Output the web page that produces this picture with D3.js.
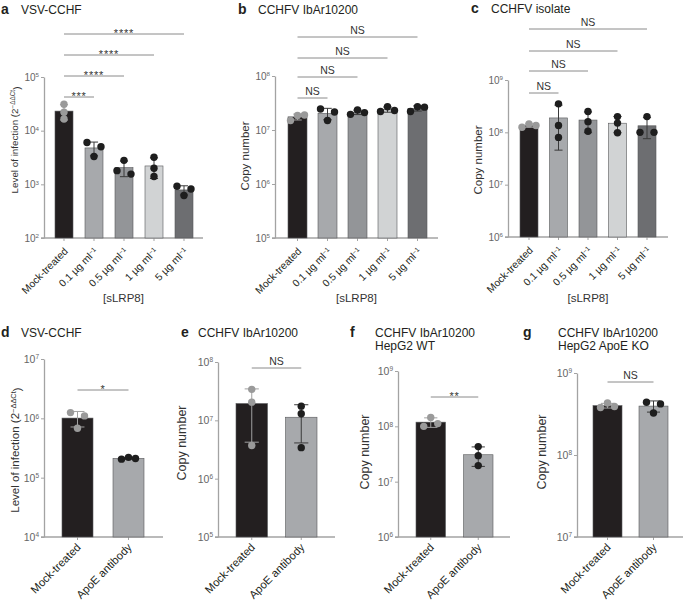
<!DOCTYPE html>
<html>
<head>
<meta charset="utf-8">
<script src="https://cdn.jsdelivr.net/npm/d3@7"></script>
<style>
  body { margin: 0; background: #fff; }
  svg { display: block; font-family: "Liberation Sans", Arial, sans-serif; }
</style>
</head>
<body>
<svg id="chart" width="686" height="604"></svg>
<script>
// groups and colours
const doseGroups = ["Mock-treated", "0.1 µg ml-1", "0.5 µg ml-1", "1 µg ml-1", "5 µg ml-1"];
const apoeGroups = ["Mock-treated", "ApoE antibody"];
const doseColors = ["#231f20", "#a7a9ac", "#939598", "#d1d3d4", "#6d6e71"];
const apoeColors = ["#231f20", "#a7a9ac"];

// replicate values
const vsvDoseValues = [[31000, 22000, 16500], [6000, 5000, 3300], [2800, 1800, 1550], [3200, 2000, 1400], [920, 820, 620]];
const ibarDoseValues = [[1.5e7, 1.85e7, 1.9e7], [2.45e7, 2.15e7, 1.5e7], [1.95e7, 2.35e7, 2.1e7], [2.2e7, 2.7e7, 2.3e7], [2.2e7, 2.7e7, 2.65e7]];
const isolateDoseValues = [[1.25e8, 1.45e8, 1.35e8], [3.5e8, 1.35e8, 0.8e8], [2.5e8, 1.6e8, 1.05e8], [2e8, 1.5e8, 0.98e8], [2e8, 1e8, 1e8]];
const vsvApoeValues = [[1.25e6, 1.1e6, 6.8e5], [2.05e5, 2.2e5, 2.1e5]];
const ibarApoeValues = [[3.4e7, 2.05e7, 3.7e6], [1.75e7, 1.3e7, 3.4e6]];
const hepWtValues = [[1.0e8, 1.45e8, 1.12e8], [4.3e7, 2.95e7, 1.95e7]];
const hepKoValues = [[3.8e8, 4.3e8, 3.9e8], [4.4e8, 4.2e8, 3.25e8]];

// significance labels (each vs mock-treated)
const vsvDoseSig = ["***", "****", "****", "****"];
const ibarDoseSig = ["NS", "NS", "NS", "NS"];
const isolateDoseSig = ["NS", "NS", "NS", "NS"];
const vsvApoeSig = ["*"];
const ibarApoeSig = ["NS"];
const hepWtSig = ["**"];
const hepKoSig = ["NS"];

const svg = d3.select("#chart");
const axisColor = "#a3a3a3";
const textColor = "#231f20";

function addLabel(sel, label) {
  // "ml-1" gets a superscript -1
  if (label.endsWith("-1")) {
    sel.text(label.slice(0, -2));
    sel.append("tspan").attr("dy", "-0.45em").attr("font-size", "0.65em").text("\u22121");
  } else {
    sel.text(label);
  }
}

function swarmOffsets(ys, step) {
  const idx = ys.map((v, i) => i).sort((a, b) => ys[a] - ys[b]);
  const out = new Array(ys.length).fill(0);
  let cluster = [idx[0]];
  const flush = () => {
    const sorted = cluster.slice().sort((a, b) => a - b);
    const n = sorted.length;
    sorted.forEach((k, j) => { out[k] = n === 1 ? 0 : (j - (n - 1) / 2) * (2 * step / (n - 1)); });
  };
  for (let i = 1; i < idx.length; i++) {
    if (ys[idx[i]] - ys[idx[i - 1]] < 6.5) cluster.push(idx[i]);
    else { flush(); cluster = [idx[i]]; }
  }
  flush();
  return out;
}

function drawPanel(p) {
  const g = svg.append("g");
  const n = p.groups.length;
  const y = d3.scaleLog().domain(p.domain).range([p.yBottom, p.yTop]);
  const gap = p.step - p.barW;
  const x = d3.scaleBand()
    .domain(d3.range(n))
    .range([p.barStart - gap / 2, p.barStart - gap / 2 + p.step * n])
    .paddingInner(gap / p.step)
    .paddingOuter(gap / p.step / 2);
  const cx = i => x(i) + x.bandwidth() / 2;

  // y axis
  const e0 = Math.round(Math.log10(p.domain[0])), e1 = Math.round(Math.log10(p.domain[1]));
  const yAxis = g.append("g")
    .attr("transform", `translate(${p.axisX},0)`)
    .call(d3.axisLeft(y).tickValues(d3.range(e0, e1 + 1).map(e => Math.pow(10, e)))
      .tickSize(3).tickSizeOuter(0).tickPadding(2).tickFormat(() => "10"));
  yAxis.select(".domain").attr("stroke", axisColor).attr("stroke-width", 1.3);
  yAxis.selectAll(".tick line").attr("stroke", axisColor);
  yAxis.selectAll(".tick text")
    .attr("fill", "#666").attr("font-size", p.tickFont).attr("font-family", "Liberation Sans, Arial, sans-serif")
    .each(function (d) {
      d3.select(this).append("tspan").attr("dy", "-0.55em").attr("font-size", "0.62em")
        .text(Math.round(Math.log10(d)));
    });

  // x axis
  g.append("line")
    .attr("x1", p.axisX - 3).attr("x2", p.axisEnd)
    .attr("y1", p.yBottom).attr("y2", p.yBottom)
    .attr("stroke", axisColor).attr("stroke-width", 1.3);
  const xAxis = g.append("g")
    .attr("transform", `translate(0,${p.yBottom})`)
    .call(d3.axisBottom(x).tickSize(3).tickSizeOuter(0).tickFormat(""));
  xAxis.select(".domain").remove();
  xAxis.selectAll(".tick line").attr("stroke", axisColor);

  p.groups.forEach((label, i) => {
    const t = g.append("text")
      .attr("transform", `translate(${cx(i) + p.xLabelDx},${p.yBottom + p.xLabelDy}) rotate(-45)`)
      .attr("text-anchor", "end")
      .attr("font-size", p.xFont)
      .attr("fill", textColor);
    addLabel(t, label);
  });

  // bars, error bars, dots
  p.values.forEach((vals, i) => {
    const m = d3.mean(vals), sd = d3.deviation(vals);
    g.append("rect")
      .attr("x", x(i)).attr("width", x.bandwidth())
      .attr("y", y(m)).attr("height", p.yBottom - y(m))
      .attr("fill", p.colors[i]).attr("stroke", "#58595b").attr("stroke-width", 0.6);
    const errColor = i === 0 ? "#a0a0a0" : "#3a3a3a";
    const lo = Math.max(m - sd, p.domain[0]), hi = m + sd;
    const capW = x.bandwidth() * 0.45;
    g.append("line").attr("x1", cx(i)).attr("x2", cx(i)).attr("y1", y(lo)).attr("y2", y(hi))
      .attr("stroke", errColor).attr("stroke-width", 1);
    [lo, hi].forEach(v => {
      g.append("line").attr("x1", cx(i) - capW / 2).attr("x2", cx(i) + capW / 2)
        .attr("y1", y(v)).attr("y2", y(v)).attr("stroke", errColor).attr("stroke-width", 1);
    });
    const ys = vals.map(v => y(v));
    const offs = swarmOffsets(ys, 7);
    g.selectAll(null).data(vals).join("circle")
      .attr("cx", (d, k) => cx(i) + offs[k])
      .attr("cy", d => y(d))
      .attr("r", 3.7)
      .attr("fill", i === 0 ? "#9a9a9a" : "#1e1e1e");
  });

  // significance brackets
  p.sig.forEach((s, k) => {
    const ly = p.sigY[k];
    const x1 = cx(0), x2 = cx(k + 1);
    g.append("line").attr("x1", x1).attr("x2", x2).attr("y1", ly).attr("y2", ly)
      .attr("stroke", "#8a8a8a").attr("stroke-width", 1);
    g.append("text")
      .attr("x", (x1 + x2) / 2).attr("y", s === "NS" ? ly - 3 : ly + 3)
      .attr("text-anchor", "middle")
      .attr("font-size", s === "NS" ? 10.5 : 11)
      .attr("letter-spacing", s === "NS" ? 0 : 0.8)
      .attr("fill", "#333")
      .text(s);
  });

  // y label
  const yl = g.append("text")
    .attr("transform", `translate(${p.yLabelX},${p.yLabelY}) rotate(-90)`)
    .attr("text-anchor", "middle")
    .attr("font-size", p.yLabelFont)
    .attr("fill", "#333");
  if (p.yLabel === "infection") {
    yl.text("Level of infection (2");
    yl.append("tspan").attr("dy", "-0.45em").attr("font-size", "0.65em").text("\u2212\u0394\u0394Ct");
    yl.append("tspan").attr("dy", "0.45em").text(")");
  } else {
    yl.text("Copy number");
  }

  // title
  g.append("text").attr("x", p.letterX).attr("y", p.titleY)
    .attr("font-size", 14).attr("font-weight", "bold").attr("fill", textColor).text(p.letter);
  p.title.forEach((line, k) => {
    g.append("text").attr("x", p.titleX).attr("y", p.titleY + k * 13)
      .attr("font-size", 12).attr("fill", textColor).text(line);
  });

  if (p.groupTitle) {
    g.append("text")
      .attr("x", (p.axisX + p.axisEnd) / 2).attr("y", 302)
      .attr("text-anchor", "middle").attr("font-size", 11.5).attr("fill", "#333")
      .text(p.groupTitle);
  }
}

const topRow = { xFont: 10.3, xLabelDx: 4.6, xLabelDy: 14, tickFont: 10, groupTitle: "[sLRP8]" };
const bottomRow = { xFont: 11.2, xLabelDx: 4, xLabelDy: 11, tickFont: 10.5 };

const panels = [
  { ...topRow, letter: "a", title: ["VSV-CCHF"], letterX: 1, titleX: 21, titleY: 14,
    groups: doseGroups, colors: doseColors, values: vsvDoseValues, sig: vsvDoseSig,
    domain: [1e2, 1e5], yTop: 77, yBottom: 238, axisX: 44, axisEnd: 203,
    barStart: 55, step: 30, barW: 18, sigY: [97, 76, 55, 34],
    yLabel: "infection", yLabelX: 18, yLabelY: 140, yLabelFont: 9.8 },
  { ...topRow, letter: "b", title: ["CCHFV IbAr10200"], letterX: 238, titleX: 258, titleY: 14,
    groups: doseGroups, colors: doseColors, values: ibarDoseValues, sig: ibarDoseSig,
    domain: [1e5, 1e8], yTop: 76, yBottom: 238, axisX: 275, axisEnd: 438,
    barStart: 288, step: 30, barW: 19, sigY: [98, 77, 58, 37],
    yLabel: "copy", yLabelX: 249, yLabelY: 156, yLabelFont: 11.5 },
  { ...topRow, letter: "c", title: ["CCHFV isolate"], letterX: 471, titleX: 491, titleY: 13,
    groups: doseGroups, colors: doseColors, values: isolateDoseValues, sig: isolateDoseSig,
    domain: [1e6, 1e9], yTop: 80, yBottom: 237, axisX: 508, axisEnd: 668,
    barStart: 520, step: 29.5, barW: 18, sigY: [93, 71, 51, 29],
    yLabel: "copy", yLabelX: 482, yLabelY: 160, yLabelFont: 11.5 },
  { ...bottomRow, letter: "d", title: ["VSV-CCHF"], letterX: 1, titleX: 21, titleY: 337,
    groups: apoeGroups, colors: apoeColors, values: vsvApoeValues, sig: vsvApoeSig,
    domain: [1e4, 1e7], yTop: 359, yBottom: 537, axisX: 44, axisEnd: 163,
    barStart: 62, step: 51, barW: 31, sigY: [390],
    yLabel: "infection", yLabelX: 19, yLabelY: 450, yLabelFont: 11.5 },
  { ...bottomRow, letter: "e", title: ["CCHFV IbAr10200"], letterX: 181, titleX: 198, titleY: 337,
    groups: apoeGroups, colors: apoeColors, values: ibarApoeValues, sig: ibarApoeSig,
    domain: [1e5, 1e8], yTop: 362, yBottom: 537, axisX: 218, axisEnd: 335,
    barStart: 236, step: 49.5, barW: 31.5, sigY: [368],
    yLabel: "copy", yLabelX: 186, yLabelY: 443, yLabelFont: 12.5 },
  { ...bottomRow, letter: "f", title: ["CCHFV IbAr10200", "HepG2 WT"], letterX: 350, titleX: 375, titleY: 337,
    groups: apoeGroups, colors: apoeColors, values: hepWtValues, sig: hepWtSig,
    domain: [1e6, 1e9], yTop: 371, yBottom: 537, axisX: 398, axisEnd: 510,
    barStart: 416, step: 47.5, barW: 29.5, sigY: [397],
    yLabel: "copy", yLabelX: 369, yLabelY: 452, yLabelFont: 12.5 },
  { ...bottomRow, letter: "g", title: ["CCHFV IbAr10200", "HepG2 ApoE KO"], letterX: 523, titleX: 558, titleY: 337,
    groups: apoeGroups, colors: apoeColors, values: hepKoValues, sig: hepKoSig,
    domain: [1e7, 1e9], yTop: 373, yBottom: 537, axisX: 577, axisEnd: 683,
    barStart: 593, step: 46, barW: 29, sigY: [382],
    yLabel: "copy", yLabelX: 546, yLabelY: 452, yLabelFont: 12.5 }
];

panels.forEach(drawPanel);
</script>
</body>
</html>
